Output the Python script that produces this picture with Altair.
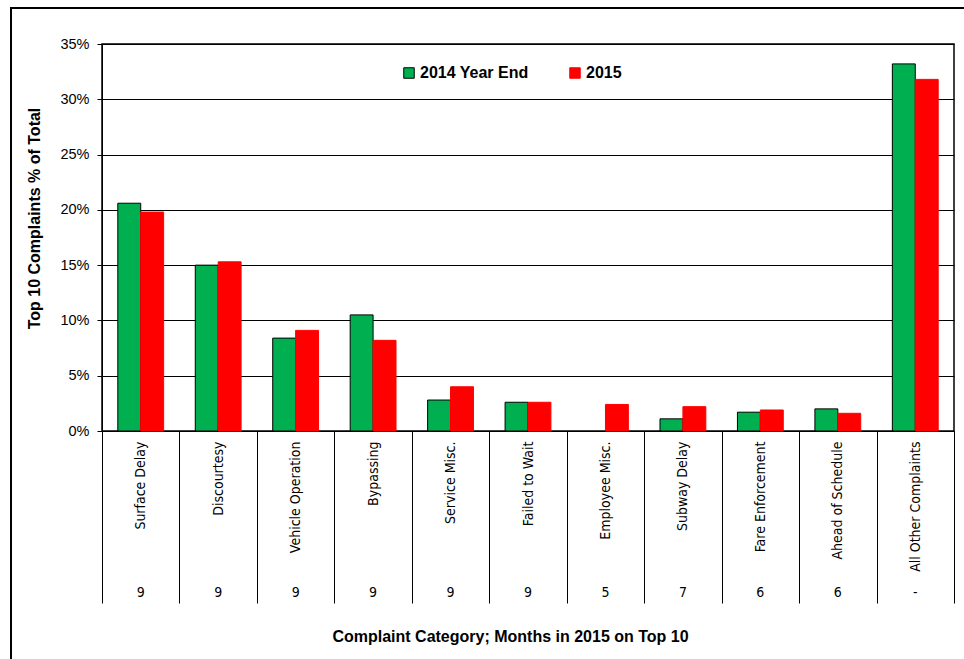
import altair as alt
import pandas as pd

categories = ["Surface Delay", "Discourtesy", "Vehicle Operation", "Bypassing",
              "Service Misc.", "Failed to Wait", "Employee Misc.", "Subway Delay",
              "Fare Enforcement", "Ahead of Schedule", "All Other Complaints"]
pct_2014 = [20.6, 15.0, 8.4, 10.5, 2.8, 2.6, None, 1.1, 1.7, 2.0, 33.2]
pct_2015 = [19.8, 15.3, 9.1, 8.2, 4.0, 2.6, 2.4, 2.2, 1.9, 1.6, 31.8]
months = ["9", "9", "9", "9", "9", "9", "5", "7", "6", "6", "-"]
series = ["2014 Year End", "2015"]
colors = ["#00B050", "#FF0000"]
strokes = ["#000000", "#FF0000"]

rows = []
for c, a, b in zip(categories, pct_2014, pct_2015):
    if a is not None:
        rows.append({"category": c, "series": series[0], "value": a / 100})
    rows.append({"category": c, "series": series[1], "value": b / 100})
df = pd.DataFrame(rows)
mdf = pd.DataFrame({"category": categories, "months": months})

W, H = 852, 387
FONT = "Liberation Sans, Arial, sans-serif"
NARROW = "Liberation Sans Narrow, Arial Narrow, DejaVu Sans Condensed, sans-serif"

xscale = alt.Scale(domain=categories, paddingInner=0, paddingOuter=0)

xaxis = alt.Axis(
    title="Complaint Category; Months in 2015 on Top 10",
    titleFont=FONT, titleFontSize=16, titleFontWeight="bold", titleColor="black",
    titleX=408, titleY=205, titleAlign="center", titleBaseline="middle", titleAnchor="start",
    labelAngle=270, labelFont=NARROW, labelFontSize=14, labelColor="black",
    labelPadding=-162, labelOverlap=False, labelLimit=300,
    tickBand="extent", tickSize=172, tickColor="black", tickWidth=1,
    domainColor="black", grid=False,
)

yaxis = alt.Axis(
    title="Top 10 Complaints % of Total",
    titleFont=FONT, titleFontSize=16, titleFontWeight="bold", titleColor="black",
    titleX=-68, titleY=174, titleAngle=270, titleAlign="center", titleBaseline="middle",
    format=".0%", values=[0, 0.05, 0.10, 0.15, 0.20, 0.25, 0.30, 0.35],
    labelFont=FONT, labelFontSize=14.5, labelColor="black", labelPadding=8,
    tickSize=5, tickColor="black", domainColor="black",
    grid=True, gridColor="black", gridWidth=1,
)

frame = alt.Chart(mdf).mark_rect(fill=None, stroke="black", strokeWidth=1.5).encode(
    x=alt.value(-91), x2=alt.value(880), y=alt.value(-36), y2=alt.value(700)
)

bars = alt.Chart(df).mark_bar(strokeWidth=1).encode(
    x=alt.X("category:N", scale=xscale, sort=categories, axis=xaxis),
    xOffset=alt.XOffset("series:N", scale=alt.Scale(domain=series, paddingInner=0, paddingOuter=0.69)),
    y=alt.Y("value:Q", scale=alt.Scale(domain=[0, 0.35], nice=False), axis=yaxis),
    color=alt.Color("series:N", scale=alt.Scale(domain=series, range=colors),
                    legend=alt.Legend(title=None, orient="none", legendX=299, legendY=21,
                                      direction="horizontal", symbolType="square",
                                      symbolSize=110, symbolStrokeWidth=1,
                                      labelFont=FONT, labelFontSize=16, labelFontWeight="bold",
                                      labelColor="black", columnPadding=38, labelOffset=3)),
    stroke=alt.Stroke("series:N", scale=alt.Scale(domain=series, range=strokes), legend=None),
)

month_text = alt.Chart(mdf).mark_text(font=NARROW, fontSize=14, color="black", baseline="middle").encode(
    x=alt.X("category:N", scale=xscale, sort=categories),
    y=alt.value(H + 162),
    text="months:N",
)

chart = alt.layer(frame, bars, month_text).properties(
    width=W, height=H,
    autosize=alt.AutoSizeParams(type="none"),
    padding={"left": 102, "top": 44, "right": 10, "bottom": 228},
    background="white",
).configure_view(stroke="black", strokeWidth=1.5)

chart.save("out.html", embed_options={"renderer": "svg", "actions": False})
